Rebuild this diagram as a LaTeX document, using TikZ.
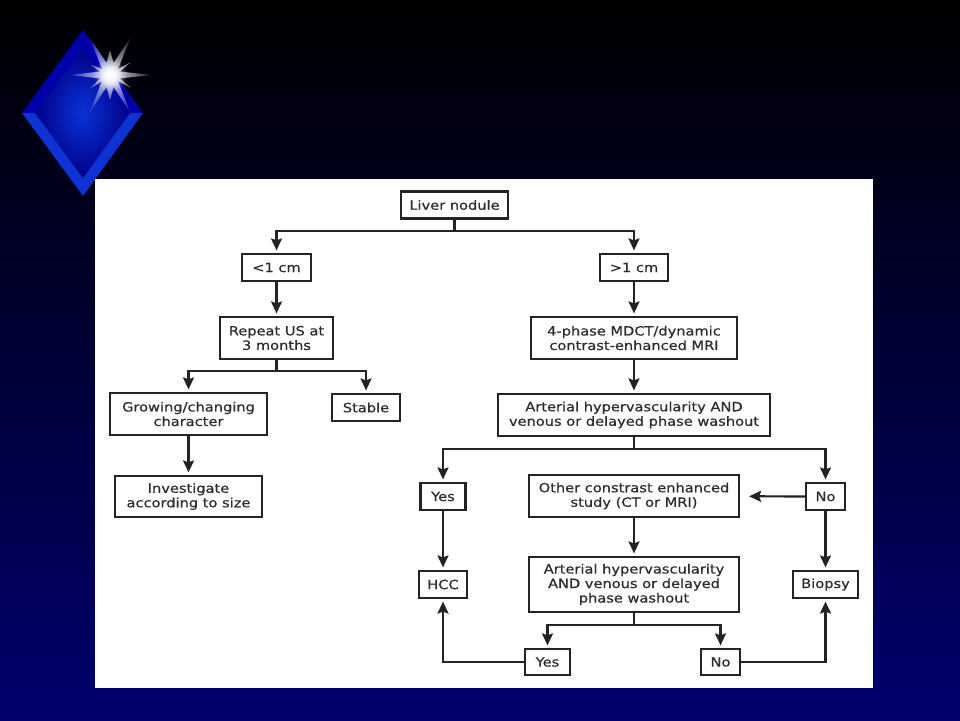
\documentclass[tikz,border=0pt]{standalone}
\usepackage{fontspec}
\setmainfont[FakeStretch=1.15,FakeBold=0.6]{DejaVu Sans}
\usetikzlibrary{arrows.meta,fadings}
\definecolor{bgtop}{RGB}{0,0,0}
\definecolor{bgbot}{RGB}{0,0,110}
\definecolor{lineink}{RGB}{35,35,35}
\definecolor{txtink}{RGB}{45,45,45}
\definecolor{gemtop}{RGB}{0,0,170}
\definecolor{gembot}{RGB}{15,50,210}
\definecolor{gemmid}{RGB}{10,50,215}
\definecolor{gemedge}{RGB}{0,0,135}
\definecolor{starink}{RGB}{225,225,248}
\tikzfading[name=starglow,inner color=transparent!0,outer color=transparent!100]
\tikzfading[name=starrays,inner color=transparent!0,middle color=transparent!10,outer color=transparent!85]
\tikzset{
  x=1pt,y=-1pt,
  flowbox/.style={draw=lineink,line width=2.2pt,fill=white,text=txtink,align=center,inner sep=0pt,
     font=\fontsize{12.7}{14.5}\selectfont},
  conn/.style={draw=lineink,line width=2.2pt},
  arr/.style={conn,-{Stealth[length=12pt,width=11pt,inset=2pt]},shorten >=2.5pt},
}
\begin{document}
\begin{tikzpicture}
\useasboundingbox (0,0) rectangle (960,720);
\shade[top color=bgtop,bottom color=bgbot] (0,0) rectangle (960,720);
% gem
\fill[gemtop] (83,30) -- (143,113) -- (22,113) -- cycle;
\fill[gembot] (22,113) -- (143,113) -- (83,196) -- cycle;
\shade[inner color=gemmid,outer color=gemedge] (83,48) -- (130,113) -- (83,178) -- (35,113) -- cycle;
% star
\fill[starink,path fading=starrays]
 (70,75) -- (100,71.5) -- (91,65) -- (102,69) -- (90,38) -- (106.5,63) -- (110,50) -- (113.5,63) -- (131,37) -- (118,69) -- (131,62) -- (120,71.5) -- (151,75) -- (120,78.5) -- (131,88) -- (118,81) -- (130,112) -- (113.5,87) -- (110,100) -- (106.5,87) -- (90,112) -- (102,81) -- (91,88) -- (100,78.5) -- cycle;
\fill[white,path fading=starglow] (110,75) circle (17);
\fill[white,path fading=starglow] (110,75) circle (12);
% panel
\fill[white] (95,179) rectangle (873,688);
% boxes
\node[flowbox,minimum width=107pt,minimum height=27pt] (liver) at (454.5,205) {Liver nodule};
\node[flowbox,minimum width=69pt,minimum height=27pt] (small) at (276.5,267.5) {<1 cm};
\node[flowbox,minimum width=68pt,minimum height=27pt] (large) at (634,267.5) {>1 cm};
\node[flowbox,minimum width=113pt,minimum height=42pt] (repeat) at (276.5,338) {Repeat US at\\3 months};
\node[flowbox,minimum width=157pt,minimum height=42pt] (grow) at (188.5,414) {Growing/changing\\character};
\node[flowbox,minimum width=68pt,minimum height=27pt] (stable) at (366,407.5) {Stable};
\node[flowbox,minimum width=147pt,minimum height=41pt] (invest) at (188.5,496.5) {Investigate\\according to size};
\node[flowbox,minimum width=206pt,minimum height=42pt] (mdct) at (634,338) {4-phase MDCT/dynamic\\contrast-enhanced MRI};
\node[flowbox,minimum width=272pt,minimum height=42pt] (art1) at (634,415) {Arterial hypervascularity AND\\venous or delayed phase washout};
\node[flowbox,minimum width=45pt,minimum height=27pt] (yes1) at (443,496.5) {Yes};
\node[flowbox,minimum width=210pt,minimum height=42pt] (other) at (634,496) {Other constrast enhanced\\study (CT or MRI)};
\node[flowbox,minimum width=39pt,minimum height=27pt] (no1) at (825.5,496.5) {No};
\node[flowbox,minimum width=48pt,minimum height=27pt] (hcc) at (443,584.5) {HCC};
\node[flowbox,minimum width=210pt,minimum height=55pt] (art2) at (634,584.5) {Arterial hypervascularity\\AND venous or delayed\\phase washout};
\node[flowbox,minimum width=65pt,minimum height=27pt] (biopsy) at (825.5,584.5) {Biopsy};
\node[flowbox,minimum width=45pt,minimum height=26pt] (yes2) at (547.5,662) {Yes};
\node[flowbox,minimum width=39pt,minimum height=26pt] (no2) at (720.5,662) {No};
% connectors
\draw[arr] (liver.south) -- ++(0,11) -| (small.north);
\draw[arr] (liver.south) -- ++(0,11) -| (large.north);
\draw[arr] (small) -- (repeat);
\draw[arr] (large) -- (mdct);
\draw[arr] (repeat.south) -- ++(0,11) -| (grow.north);
\draw[arr] (repeat.south) -- ++(0,11) -| (stable.north);
\draw[arr] (grow) -- (invest);
\draw[arr] (mdct) -- (art1);
\draw[arr] (art1.south) -- ++(0,12) -| (yes1.north);
\draw[arr] (art1.south) -- ++(0,12) -| (no1.north);
\draw[arr] (yes1) -- (hcc);
\draw[arr] (no1) -- (biopsy);
\draw[arr,shorten >=9pt] (no1) -- (other);
\draw[arr] (other) -- (art2);
\draw[arr] (art2.south) -- ++(0,12) -| (yes2.north);
\draw[arr] (art2.south) -- ++(0,12) -| (no2.north);
\draw[arr] (yes2) -| (hcc);
\draw[arr] (no2) -| (biopsy);
\end{tikzpicture}
\end{document}
